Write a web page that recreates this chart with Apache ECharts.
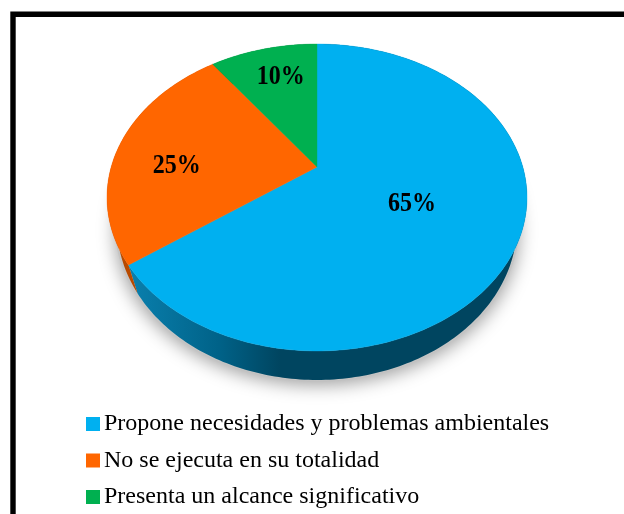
<!DOCTYPE html>
<html>
<head>
<meta charset="utf-8">
<style>html,body{margin:0;padding:0;background:#fff}#c{width:624px;height:514px}</style>
<script src="https://cdn.jsdelivr.net/npm/echarts@6/dist/echarts.min.js"></script>
</head>
<body>
<div id="c"></div>
<script>
const categories = ['Propone necesidades y problemas ambientales', 'No se ejecuta en su totalidad', 'Presenta un alcance significativo'];
const shares = [65, 25, 10];
const sliceColors = ['#00B0F0', '#FF6600', '#00B050'];

// Perspective of the tilted disc (a circle projected to an off-centre ellipse)
const view = { cx: 317, apexY: 167, a: 205.8, b: 147.4, k: 0.1987, rimCy: 197.5, rimRy: 153.5, rimRx: 210,
               floorCy: 225, floorRx: 200, floorRy: 155 };
const labelPlace = [{ f: .5, dx: -1, dy: 2 }, { f: .7, dx: -1, dy: 15 }, { f: .7, dx: 3, dy: -3 }];
const wallFills = [
  new echarts.graphic.LinearGradient(128, 0, 280, 0, [
    { offset: 0, color: '#0A80AE' }, { offset: .6, color: '#006288' }, { offset: 1, color: '#004560' }], true),
  '#B84A00', '#006B30'
];
const total = shares.reduce((s, v) => s + v, 0);

function project(deg, f) {
  const t = deg * Math.PI / 180, u = Math.sin(t) * f, v = -Math.cos(t) * f, d = 1 - view.k * v;
  return [view.cx + view.a * u / d, view.apexY + view.b * v / d];
}
function toFloor(p) {
  return [view.cx + (p[0] - view.cx) * view.floorRx / view.rimRx,
          view.floorCy + (p[1] - view.rimCy) * view.floorRy / view.rimRy];
}
function arc(from, to) {
  const pts = [], n = Math.max(2, Math.ceil(to - from));
  for (let i = 0; i <= n; i++) pts.push(project(from + (to - from) * i / n, 1));
  return pts;
}
function renderSlice(index) {
  return function (params, api) {
    const value = api.value(0);
    const before = shares.slice(0, index).reduce((s, v) => s + v, 0);
    const from = before / total * 360, to = (before + value) / total * 360;
    const rim = arc(from, to);
    const wall = rim.concat(rim.map(toFloor).reverse());
    const top = [project(0, 0)].concat(rim);
    const place = labelPlace[index];
    const mid = project((from + to) / 2, place.f);
    const children = [];
    if (index === 0) {
      children.push({
        type: 'ellipse', z2: 0, silent: true,
        shape: { cx: view.cx, cy: view.floorCy + 1, rx: view.floorRx + 2, ry: view.floorRy },
        style: { fill: '#c4c4c4', shadowBlur: 18, shadowColor: 'rgba(0,0,0,0.38)', shadowOffsetY: 4 }
      });
    }
    children.push({
      type: 'polygon', z2: 1, shape: { points: wall },
      style: { fill: wallFills[index], stroke: null }
    });
    children.push({
      type: 'polygon', z2: 2, shape: { points: top },
      style: { fill: sliceColors[index], stroke: sliceColors[index], lineWidth: 0.4 }
    });
    children.push({
      type: 'text', z2: 3, x: mid[0] + place.dx, y: mid[1] + place.dy, scaleY: 1.12,
      style: { text: value + '%', font: 'bold 24px "Liberation Serif"', fill: '#000', align: 'center', verticalAlign: 'middle' }
    });
    return { type: 'group', children };
  };
}

const chart = echarts.init(document.getElementById('c'), null, { renderer: 'canvas' });
chart.setOption({
  animation: false,
  backgroundColor: '#fff',
  legend: {
    orient: 'vertical', left: 86, top: 412, padding: 0,
    itemWidth: 14, itemHeight: 14, itemGap: 12.5, icon: 'rect',
    data: categories,
    textStyle: { fontFamily: 'Liberation Serif', fontSize: 24, color: '#000', padding: [0, 0, 0, -1] }
  },
  graphic: [{
    type: 'rect', silent: true, z: 100,
    shape: { x: 13, y: 14.2, width: 800, height: 800 },
    style: { fill: null, stroke: '#000', lineWidth: 5.4 }
  }],
  series: categories.map((name, i) => ({
    type: 'custom', name, coordinateSystem: 'none',
    itemStyle: { color: sliceColors[i] },
    data: [[shares[i]]],
    renderItem: renderSlice(i)
  }))
});
</script>
</body>
</html>
